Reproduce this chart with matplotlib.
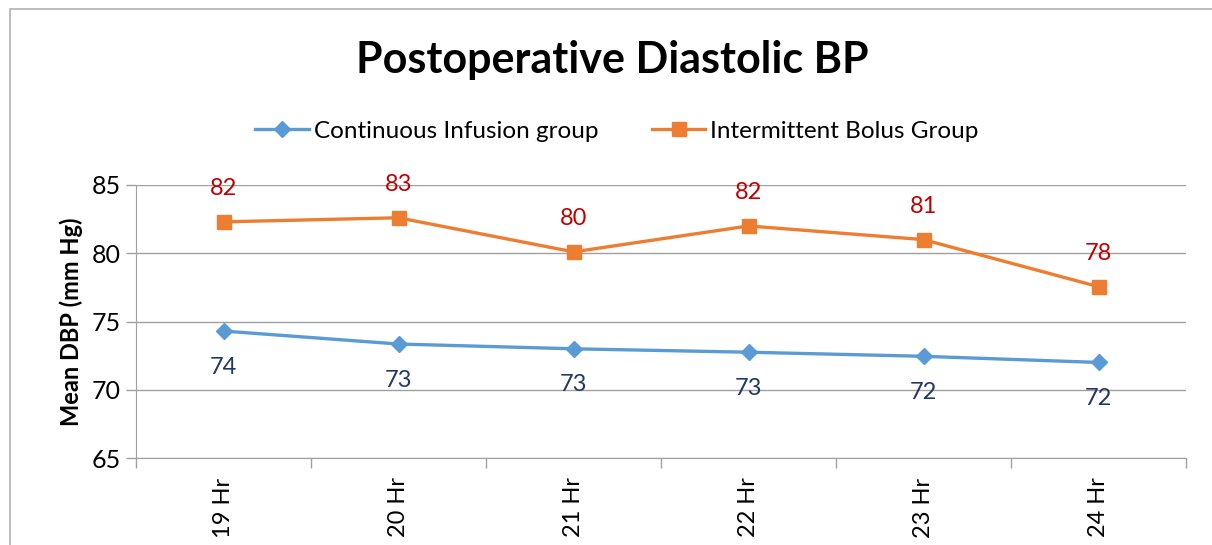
import matplotlib.pyplot as plt
from matplotlib.patches import Rectangle

# datos
horas = ['19 Hr', '20 Hr', '21 Hr', '22 Hr', '23 Hr', '24 Hr']
infusion_continua = [74.3, 73.35, 73.0, 72.75, 72.45, 72.0]
bolo_intermitente = [82.3, 82.6, 80.1, 82.0, 81.0, 77.55]
etiquetas_continua = ['74', '73', '73', '73', '72', '72']
etiquetas_bolo = ['82', '83', '80', '82', '81', '78']

plt.rcParams['font.family'] = ['Lato', 'DejaVu Sans']

azul = '#5B9BD5'
naranja = '#ED7D31'
gris = '#A0A0A0'

fig = plt.figure(figsize=(12.12, 5.45), dpi=100)
ax = fig.add_axes([136 / 1212, 1 - 458 / 545, 1050 / 1212, 273 / 545])

x = list(range(len(horas)))
ax.plot(x, infusion_continua, color=azul, lw=2.4, marker='D', ms=8,
        label='Continuous Infusion group')
ax.plot(x, bolo_intermitente, color=naranja, lw=2.4, marker='s', ms=10,
        label='Intermittent Bolus Group')

# etiquetas de datos
for xi, v, t in zip(x, bolo_intermitente, etiquetas_bolo):
    ax.annotate(t, (xi, v), xytext=(0, 24), textcoords='offset points',
                ha='center', va='center', color='#C00000', fontsize=17)
for xi, v, t in zip(x, infusion_continua, etiquetas_continua):
    ax.annotate(t, (xi, v), xytext=(0, -26), textcoords='offset points',
                ha='center', va='center', color='#1F3864', fontsize=17)

ax.set_xlim(-0.5, len(horas) - 0.5)
ax.set_ylim(65, 85)
ax.set_yticks([65, 70, 75, 80, 85])
ax.set_xticks(x)
ax.set_xticklabels(horas, rotation=90)
ax.set_xticks([i - 0.5 for i in range(len(horas) + 1)], minor=True)
ax.tick_params(axis='x', which='major', length=0, labelsize=17, pad=14)
ax.tick_params(axis='x', which='minor', length=7, color=gris, width=1)
ax.tick_params(axis='y', length=7, color=gris, width=1, labelsize=18, pad=4)
ax.grid(axis='y', color=gris, lw=1)
ax.set_axisbelow(True)
for s in ['top', 'right']:
    ax.spines[s].set_visible(False)
for s in ['left', 'bottom']:
    ax.spines[s].set_color(gris)

ax.set_ylabel('Mean DBP (mm Hg)', fontsize=17, fontweight='bold', labelpad=6)

fig.text(612 / 1212, 1 - 60 / 545, 'Postoperative Diastolic BP', ha='center', va='center',
         fontsize=31, fontweight='bold')
fig.legend(loc='center', bbox_to_anchor=(617 / 1212, 1 - 131 / 545), ncol=2, frameon=False,
           fontsize=17.5, handlelength=2.2, columnspacing=2.2, handletextpad=0.2)

# borde del grafico
fig.patches.append(Rectangle((10 / 1212, -0.1), 1.2, 1 - 9 / 545 + 0.1, transform=fig.transFigure,
                             fill=False, edgecolor='#B0B0B0', lw=1.2))

fig.savefig('out.png', dpi=100)
